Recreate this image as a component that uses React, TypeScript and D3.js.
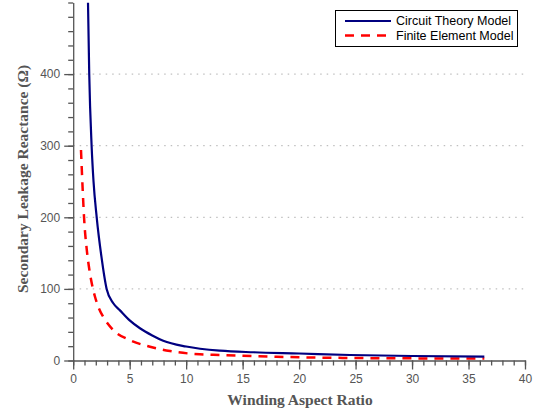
import React, { useEffect, useRef } from 'react';
import * as d3 from 'd3';

const seriesNames = ["Circuit Theory Model", "Finite Element Model"];
const seriesColors = ["#000080", "#ff0000"];

// Circuit theory model (solid)
const circuitX = [1.31, 1.42, 1.63, 1.8, 2.08, 2.5, 2.96, 3.55, 4.14, 5, 5.91, 7, 7.97, 10, 13, 16, 20, 24.5, 30, 36.4];
const circuitY = [500, 400, 300, 250, 200, 145, 100, 80, 70, 56, 45, 35, 27.6, 19.5, 13.7, 11.5, 9.8, 7.7, 6.3, 5.3];

// Finite element model (dashed)
const feX = [0.69, 0.85, 0.96, 1.2, 1.45, 1.75, 1.93, 2.3, 2.66, 3.55, 5, 6.8, 8.57, 11.2, 13, 18, 24.5, 30, 36.4];
const feY = [294, 235, 200, 155, 125, 100, 89, 72, 61, 42.5, 28.6, 19.2, 13.2, 8.6, 7.7, 5.2, 3.5, 3, 2.8];

const xTicks = [0, 5, 10, 15, 20, 25, 30, 35, 40];
const yTicks = [0, 100, 200, 300, 400];
const xLabel = "Winding Aspect Ratio";
const yLabel = "Secondary Leakage Reactance (\u03a9)";

function Chart({ width, height }: { width: number; height: number }) {
    const svgRef = useRef<SVGSVGElement>(null);

    useEffect(() => {
        const svg = d3.select(svgRef.current)
            .attr('width', width)
            .attr('height', height);
        svg.selectAll('*').remove();

        const left = 73.2, right = 525, top = 2.5, bottom = 360.5;

        const xScale = d3.scaleLinear().domain([0, 40]).range([left, right]);
        const yScale = d3.scaleLinear().domain([0, 500]).range([bottom, top]);

        svg.append('defs').append('clipPath').attr('id', 'plot-clip')
            .append('rect')
            .attr('x', left).attr('y', top)
            .attr('width', right - left).attr('height', bottom - top);

        // dotted horizontal grid
        svg.append('g')
            .selectAll('line')
            .data(yTicks.filter(d => d > 0))
            .enter()
            .append('line')
            .attr('x1', left)
            .attr('x2', right)
            .attr('y1', d => yScale(d))
            .attr('y2', d => yScale(d))
            .attr('stroke', '#b0b0b0')
            .attr('stroke-width', 1)
            .attr('stroke-dasharray', '1.5,5');

        const axisColor = '#555';
        const labelColor = '#555';

        // x axis
        const xAxisMinor = d3.axisBottom(xScale)
            .tickValues(d3.range(0, 41, 1))
            .tickSize(5)
            .tickFormat(() => '');
        const gxm = svg.append('g')
            .attr('transform', `translate(0, ${bottom})`)
            .call(xAxisMinor);
        gxm.select('.domain').remove();
        gxm.selectAll('line').attr('stroke', axisColor).attr('stroke-width', 1.3);

        const xAxis = d3.axisBottom(xScale)
            .tickValues(xTicks)
            .tickSize(9)
            .tickSizeOuter(0)
            .tickPadding(5);
        const gx = svg.append('g')
            .attr('transform', `translate(0, ${bottom})`)
            .call(xAxis);
        gx.select('.domain').attr('stroke', axisColor).attr('stroke-width', 1.3);
        gx.selectAll('line').attr('stroke', axisColor).attr('stroke-width', 1.3);
        gx.selectAll('text')
            .attr('fill', labelColor)
            .style('font-family', '"Liberation Sans", Arial, sans-serif')
            .style('font-size', '12px');

        // y axis
        const yAxisMinor = d3.axisLeft(yScale)
            .tickValues(d3.range(0, 501, 20))
            .tickSize(5)
            .tickFormat(() => '');
        const gym = svg.append('g')
            .attr('transform', `translate(${left}, 0)`)
            .call(yAxisMinor);
        gym.select('.domain').remove();
        gym.selectAll('line').attr('stroke', axisColor).attr('stroke-width', 1.3);

        const yAxis = d3.axisLeft(yScale)
            .tickValues(yTicks)
            .tickSize(9)
            .tickSizeOuter(0)
            .tickPadding(4);
        const gy = svg.append('g')
            .attr('transform', `translate(${left}, 0)`)
            .call(yAxis);
        gy.select('.domain').attr('stroke', axisColor).attr('stroke-width', 1.3);
        gy.selectAll('line').attr('stroke', axisColor).attr('stroke-width', 1.3);
        gy.selectAll('text')
            .attr('fill', labelColor)
            .style('font-family', '"Liberation Sans", Arial, sans-serif')
            .style('font-size', '12px');

        // lines
        const line = d3.line<[number, number]>()
            .x(d => xScale(d[0]))
            .y(d => yScale(d[1]))
            .curve(d3.curveMonotoneX);

        const plot = svg.append('g').attr('clip-path', 'url(#plot-clip)');

        plot.append('path')
            .datum(feX.map((x, i) => [x, feY[i]] as [number, number]))
            .attr('d', line)
            .attr('fill', 'none')
            .attr('stroke', seriesColors[1])
            .attr('stroke-width', 2.5)
            .attr('stroke-dasharray', '9,7');

        plot.append('path')
            .datum(circuitX.map((x, i) => [x, circuitY[i]] as [number, number]))
            .attr('d', line)
            .attr('fill', 'none')
            .attr('stroke', seriesColors[0])
            .attr('stroke-width', 2.2);

        // axis titles
        svg.append('text')
            .attr('x', 300)
            .attr('y', 405)
            .attr('text-anchor', 'middle')
            .attr('fill', labelColor)
            .style('font-family', '"Liberation Serif", "Times New Roman", serif')
            .style('font-weight', 'bold')
            .style('font-size', '15.5px')
            .text(xLabel);

        svg.append('text')
            .attr('transform', `translate(28, 179) rotate(-90)`)
            .attr('text-anchor', 'middle')
            .attr('fill', labelColor)
            .style('font-family', '"Liberation Serif", "Times New Roman", serif')
            .style('font-weight', 'bold')
            .style('font-size', '15.5px')
            .text(yLabel);

        // legend
        const legend = svg.append('g');
        legend.append('rect')
            .attr('x', 335.5).attr('y', 10.5)
            .attr('width', 182).attr('height', 36)
            .attr('fill', 'white')
            .attr('stroke', 'black')
            .attr('stroke-width', 1);

        seriesNames.forEach((name, i) => {
            const ly = 21 + i * 14.5;
            legend.append('line')
                .attr('x1', 345).attr('x2', 391)
                .attr('y1', ly).attr('y2', ly)
                .attr('stroke', seriesColors[i])
                .attr('stroke-width', i === 0 ? 2.2 : 2.5)
                .attr('stroke-dasharray', i === 0 ? null : '9,7');
            legend.append('text')
                .attr('x', 396)
                .attr('y', ly)
                .attr('dy', '0.35em')
                .attr('fill', 'black')
                .style('font-family', '"Liberation Sans", Arial, sans-serif')
                .style('font-size', '12.5px')
                .text(name);
        });
    }, [width, height]);

    return <svg ref={svgRef} style={{ position: 'absolute', left: 0, top: 0 }} />;
}

export default function App() {
    return <Chart width={536} height={413} />;
}
